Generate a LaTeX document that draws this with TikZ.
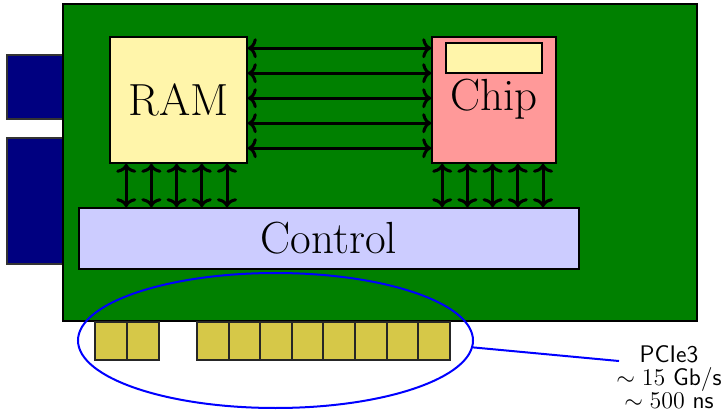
\documentclass[tikz,border=0pt]{standalone}
\usetikzlibrary{calc,shapes.geometric,arrows.meta}
\definecolor{boardgreen}{RGB}{0,128,0}
\definecolor{tabblue}{RGB}{0,0,128}
\definecolor{ramyellow}{RGB}{255,245,170}
\definecolor{chipred}{RGB}{255,153,153}
\definecolor{ctrlblue}{RGB}{204,204,255}
\definecolor{pinyellow}{RGB}{214,200,72}
\begin{document}
\begin{tikzpicture}[x=0.5pt,y=-0.5pt,
  box/.style={draw=black, line width=0.8pt, inner sep=0pt, font=\fontsize{22.5}{26}\selectfont},
  bus/.style={{To[length=4.5pt,width=10pt]}-{To[length=4.5pt,width=10pt]}, line width=1.5pt},
  pin/.style={draw=black!85, fill=pinyellow, line width=1pt},
  tab/.style={draw=black!80, fill=tabblue, line width=0.8pt}]
\useasboundingbox (0,0) rectangle (728,411);
% edge tabs
\draw[tab] (7,55) rectangle (63,119);
\draw[tab] (7,138) rectangle (63,264);
% board
\draw[fill=boardgreen, line width=1pt] (63,4) rectangle (697,321);
% components
\node[box, fill=ramyellow, minimum width=68.5pt, minimum height=63pt] (ram) at (178.5,100) {RAM};
\node[box, fill=chipred, minimum width=62pt, minimum height=63pt] (chip) at (494,100) {};
\node[box, fill=ramyellow, minimum width=48pt, minimum height=15pt] (cache) at (494,58) {};
\node[font=\fontsize{22.5}{26}\selectfont] (chiptxt) at (494,99) {Chip};
\node[box, fill=ctrlblue, minimum width=250pt, minimum height=30.5pt] (ctrl) at (329,238.5) {Control};
% buses RAM <-> Chip
\foreach \i in {0,...,4}{
  \draw[bus] ($(ram.north east)+(0,12+25*\i)$) -- ($(chip.north west)+(0,12+25*\i)$);
}
% buses to control
\foreach \i in {0,...,4}{
  \draw[bus] ($(ram.south west)+(17+25.2*\i,0)$) coordinate (a) -- (a |- ctrl.north);
  \draw[bus] ($(chip.south west)+(11+25.2*\i,0)$) coordinate (b) -- (b |- ctrl.north);
}
% pins
\foreach \i in {0,1}{
  \draw[pin] (95+32*\i,322) rectangle ++(32,38);
}
\foreach \i in {0,...,7}{
  \draw[pin] (197+31.6*\i,322) rectangle ++(31.6,38);
}
% callout
\node[draw=blue, line width=1pt, ellipse, minimum width=197.5pt, minimum height=67.5pt, inner sep=0pt] (ell) at (275.5,340.5) {};
\node[align=center, font=\fontsize{12}{11.5}\sffamily, inner sep=0pt] (lbl) at (669,377) {PCIe3\\$\sim 15$ Gb/s\\$\sim 500$ ns};
\coordinate (lblin) at ($(lbl.north west)+(3,16)$);
\draw[blue, line width=1pt] (ell.-2.5) -- (lblin);
\end{tikzpicture}
\end{document}
